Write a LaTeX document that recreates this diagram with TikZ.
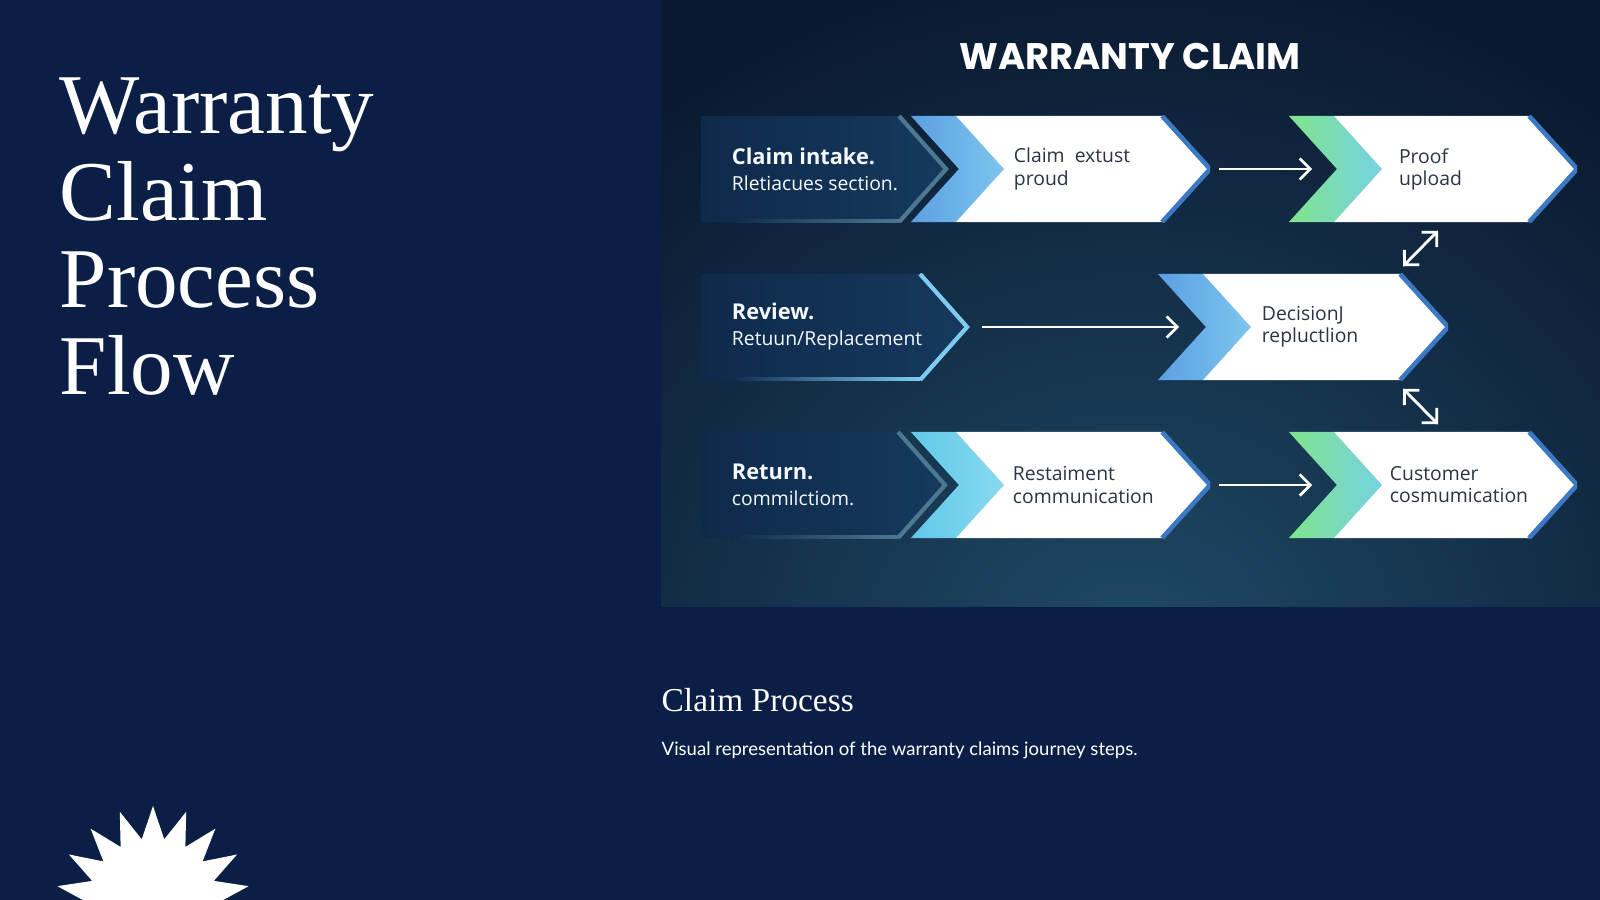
\documentclass[tikz,border=0pt]{standalone}
\usepackage{fontspec}
\setmainfont{Liberation Serif}
\newfontfamily\uisans{Open Sans}
\newfontfamily\headsans{Poppins}
\newfontfamily\bodysans{Lato}
\usetikzlibrary{arrows.meta, positioning, calc, shapes.geometric}
\definecolor{pagenavy}{HTML}{0B1F46}
\definecolor{paneouter}{HTML}{0A1930}
\definecolor{paneglow}{HTML}{1F4A66}
\definecolor{darkstepl}{HTML}{0E2A4B}
\definecolor{darkstepr}{HTML}{16395E}
\definecolor{stepedge}{HTML}{3C79C4}
\definecolor{steptext}{HTML}{2B3445}
\definecolor{bandblue}{HTML}{5C9FE2}
\definecolor{bandsky}{HTML}{7CC6EF}
\definecolor{bandcyan}{HTML}{62C9E9}
\definecolor{bandaqua}{HTML}{86DAEF}
\definecolor{bandgreen}{HTML}{80E38C}
\definecolor{bandteal}{HTML}{74D3E3}
\definecolor{reviewedge}{HTML}{7FCBF2}
\definecolor{mutededge}{HTML}{4C7890}

\begin{document}
\begin{tikzpicture}[x=0.01cm, y=-0.01cm,
    stage/.style 2 args={inner sep=0pt, minimum height=1.06cm, path picture={
        \path (path picture bounding box.north west) coordinate (pp-nw)
              (path picture bounding box.north east) coordinate (pp-ne)
              (path picture bounding box.south west) coordinate (pp-sw)
              (path picture bounding box.south east) coordinate (pp-se)
              (path picture bounding box.west) coordinate (pp-w)
              (path picture bounding box.east) coordinate (pp-e);
        \shade[left color=#1, right color=#2] (pp-nw) -- ($(pp-nw)+(0.45cm,0)$) -- ($(pp-w)+(0.93cm,0)$)
            -- ($(pp-sw)+(0.45cm,0)$) -- (pp-sw) -- ($(pp-w)+(0.48cm,0)$) -- cycle;
        \fill[white] ($(pp-nw)+(0.45cm,0)$) -- ($(pp-ne)-(0.48cm,0)$) -- (pp-e) -- ($(pp-se)-(0.48cm,0)$)
            -- ($(pp-sw)+(0.45cm,0)$) -- ($(pp-w)+(0.93cm,0)$) -- cycle;
        \draw[stepedge, line width=1.3pt] ($(pp-ne)-(0.48cm,0)$) -- (pp-e) -- ($(pp-se)-(0.48cm,0)$);
    }},
    darkstage/.style={inner sep=0pt, minimum height=1.06cm, path picture={
        \path (path picture bounding box.north west) coordinate (pp-nw)
              (path picture bounding box.north east) coordinate (pp-ne)
              (path picture bounding box.south west) coordinate (pp-sw)
              (path picture bounding box.south east) coordinate (pp-se)
              (path picture bounding box.east) coordinate (pp-e);
        \shade[left color=darkstepl, right color=darkstepr] (pp-nw) -- ($(pp-ne)-(0.48cm,0)$) -- (pp-e)
            -- ($(pp-se)-(0.48cm,0)$) -- (pp-sw) -- cycle;
        \shade[left color=darkstepl, right color=#1] ($(pp-sw)+(0.3cm,0.025cm)$) rectangle ($(pp-se)+(-0.5cm,0)$);
        \draw[#1, line width=1.2pt] ($(pp-ne)-(0.5cm,0)$) -- ($(pp-e)-(0.03cm,0)$) -- ($(pp-se)-(0.5cm,0)$);
    }},
    darklabel/.style={inner sep=0pt, align=left, text=white!92!bandsky, font=\uisans\fontsize{5.5pt}{7.4pt}\selectfont},
    steplabel/.style={inner sep=0pt, align=left, text=steptext, font=\uisans\fontsize{5.5pt}{6.3pt}\selectfont},
    flow/.style={-{Straight Barb[length=3pt, width=6pt]}, white, line width=0.8pt},
    link/.style={{Straight Barb[length=3pt, width=6pt]}-{Straight Barb[length=3pt, width=6pt]}, white, line width=0.8pt},
]
\useasboundingbox (0,0) rectangle (1600,900);
\fill[pagenavy] (0,0) rectangle (1600,900);

% Left: title and burst
\node[anchor=north west, inner sep=0pt, align=left, text=white, font=\fontsize{24.2pt}{24.7pt}\selectfont] (title) at (59,77) {Warranty\\Claim\\Process\\Flow};
\node[star, star points=18, star point ratio=1.5, minimum size=1.94cm, inner sep=0pt, fill=white] (burst) at (153,903) {};

% Right: picture panel
\begin{scope}
\clip (661,0) rectangle (1600,606);
\fill[paneouter] (661,0) rectangle (1600,606);
\shade[inner color=paneglow, outer color=paneouter] (1130,660) ellipse (760 and 700);
\end{scope}
\node[anchor=base, inner sep=0pt, text=white, font=\headsans\bfseries\fontsize{10.5pt}{12pt}\selectfont] (heading) at (1130,69) {WARRANTY CLAIM};

% Row 1
\node[darkstage=mutededge, minimum width=2.48cm] (intake) at (825,169) {};
\node[stage={bandblue}{bandsky}, minimum width=2.99cm] (extust) at (1060.5,169) {};
\node[stage={bandgreen}{bandteal}, minimum width=2.88cm] (proof) at (1433,169) {};

% Row 2
\node[darkstage=reviewedge, minimum width=2.69cm] (review) at (835.5,327) {};
\node[stage={bandblue}{bandsky}, minimum width=2.90cm] (decision) at (1303,327) {};

% Row 3
\node[darkstage=mutededge, minimum width=2.47cm] (returned) at (824.5,485) {};
\node[stage={bandcyan}{bandaqua}, minimum width=2.99cm] (restate) at (1060.5,485) {};
\node[stage={bandgreen}{bandteal}, minimum width=2.88cm] (customer) at (1433,485) {};

% Labels
\node[darklabel, right=0.31cm of intake.west] (intakelabel) {{\fontsize{6.2pt}{7.4pt}\selectfont\bfseries Claim intake.}\\Rletiacues section.};
\node[darklabel, right=0.31cm of review.west] (reviewlabel) {{\fontsize{6.2pt}{7.4pt}\selectfont\bfseries Review.}\\Retuun/Replacement};
\node[darklabel, right=0.31cm of returned.west] (returnedlabel) {{\fontsize{6.2pt}{7.4pt}\selectfont\bfseries Return.}\\commilctiom.};
\node[steplabel, right=1.03cm of extust.west] (extustlabel) {Claim\ \ extust\\proud};
\node[steplabel, right=1.10cm of proof.west] (prooflabel) {Proof\\upload};
\node[steplabel, right=1.04cm of decision.west] (decisionlabel) {DecisionJ\\repluctlion};
\node[steplabel, right=1.02cm of restate.west] (restatelabel) {Restaiment\\communication};
\node[steplabel, right=1.01cm of customer.west] (customerlabel) {Customer\\cosmumication};

% Connectors
\foreach \from/\to in {extust/proof, restate/customer} {
    \draw[flow, shorten <=0.08cm] (\from.east) -- ([xshift=0.24cm]\to.west);
}
\draw[flow, shorten <=0.11cm] (review.east) -- ([xshift=0.22cm]decision.west);
\draw[link] ([xshift=1.0cm, yshift=0.07cm]decision.north) -- ([xshift=0.05cm, yshift=-0.08cm]proof.south);
\draw[link] ([xshift=1.0cm, yshift=-0.08cm]decision.south) -- ([xshift=0.05cm, yshift=0.07cm]customer.north);

% Caption
\node[anchor=base west, inner sep=0pt, text=white, font=\fontsize{9.5pt}{11pt}\selectfont] (caption) at (661,711) {Claim Process};
\node[anchor=base west, inner sep=0pt, text=white, font=\bodysans\fontsize{5.27pt}{7pt}\selectfont] (blurb) at (661,755) {Visual representation of the warranty claims journey steps.};
\end{tikzpicture}
\end{document}
